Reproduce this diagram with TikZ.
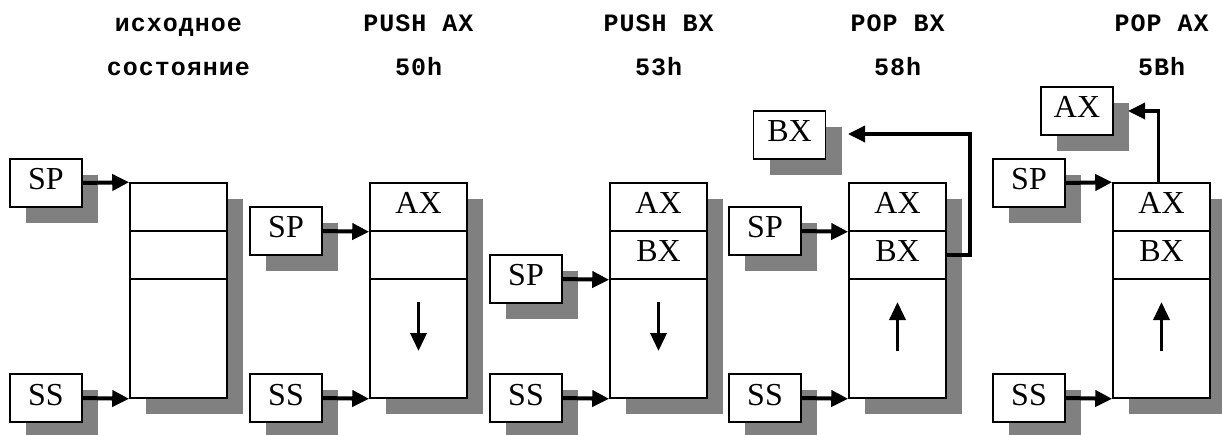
\documentclass[tikz,border=0pt]{standalone}
\usepackage{fontspec}
\setmainfont{Liberation Serif}
\newfontfamily\titlefont[LetterSpace=4]{Liberation Mono}
\usetikzlibrary{arrows.meta,shadows}
\definecolor{shade}{RGB}{128,128,128}
\tikzset{
  shad/.style={drop shadow={shadow xshift=16pt, shadow yshift=-16pt, fill=shade, opacity=1}},
  regbox/.style={draw, line width=1.6pt, fill=white, minimum width=72pt, minimum height=48pt,
    inner sep=0pt, font=\fontsize{32}{32}\selectfont, text height=22pt, text depth=8pt, shad},
  stackbox/.style={draw, line width=1.6pt, fill=white, minimum width=97pt, minimum height=215pt,
    inner sep=0pt, shad},
  cellbox/.style={draw, line width=1.6pt, minimum width=97pt, minimum height=48pt, inner sep=0pt,
    font=\fontsize{32}{32}\selectfont, text height=22pt, text depth=8pt},
  titletext/.style={anchor=base, inner sep=0pt, font=\titlefont\bfseries\fontsize{25}{25}\selectfont},
  ptr/.style={line width=4pt, -{Triangle[length=17pt 0 0,width=16pt 0 0]}},
  popptr/.style={line width=3.5pt, -{Triangle[length=17pt 0 0,width=16pt 0 0]}},
  dirptr/.style={line width=3.5pt, -{Triangle[length=18pt 0 0,width=16pt 0 0]}}
}
\begin{document}
\begin{tikzpicture}[x=1pt,y=-1pt]
\useasboundingbox (0,0) rectangle (1222,435);

% titles
\node[titletext] (t1a) at (178.5,32) {исходное};
\node[titletext] (t1b) at (178.5,76) {состояние};
\node[titletext] (t2a) at (418.5,32) {PUSH AX};
\node[titletext] (t2b) at (418.5,76) {50h};
\node[titletext] (t3a) at (658.5,32) {PUSH BX};
\node[titletext] (t3b) at (658.5,76) {53h};
\node[titletext] (t4a) at (897.5,32) {POP BX};
\node[titletext] (t4b) at (897.5,76) {58h};
\node[titletext] (t5a) at (1161.5,32) {POP AX};
\node[titletext] (t5b) at (1161.5,76) {5Bh};

% panel 1
\node[stackbox] (s1) at (178.5,290.5) {};
\node[cellbox] (a1) at (178.5,207) {};
\node[cellbox] (b1) at (178.5,255) {};
\node[regbox] (sp1) at (46,183) {SP};
\node[regbox] (ss1) at (46,398) {SS};
\draw[ptr] (sp1.east) -- (s1.north west);
\draw[ptr] (ss1.east) -- (s1.south west);

% panel 2
\node[stackbox] (s2) at (418.5,290.5) {};
\node[cellbox] (a2) at (418.5,207) {AX};
\node[cellbox] (b2) at (418.5,255) {};
\node[regbox] (sp2) at (286,231) {SP};
\node[regbox] (ss2) at (286,398) {SS};
\draw[ptr] (sp2.east) -- (a2.south west);
\draw[ptr] (ss2.east) -- (s2.south west);
\draw[dirptr] (418.5,302) -- (418.5,351);

% panel 3
\node[stackbox] (s3) at (658.5,290.5) {};
\node[cellbox] (a3) at (658.5,207) {AX};
\node[cellbox] (b3) at (658.5,255) {BX};
\node[regbox] (sp3) at (526,279) {SP};
\node[regbox] (ss3) at (526,398) {SS};
\draw[ptr] (sp3.east) -- (b3.south west);
\draw[ptr] (ss3.east) -- (s3.south west);
\draw[dirptr] (658.5,302) -- (658.5,351);

% panel 4
\node[stackbox] (s4) at (897.5,290.5) {};
\node[cellbox] (a4) at (897.5,207) {AX};
\node[cellbox] (b4) at (897.5,255) {BX};
\node[regbox] (sp4) at (765,231) {SP};
\node[regbox] (ss4) at (765,398) {SS};
\node[regbox] (bx4) at (789.5,135) {BX};
\coordinate (e4) at (848,134);
\draw[ptr] (sp4.east) -- (a4.south west);
\draw[ptr] (ss4.east) -- (s4.south west);
\draw[dirptr] (897.5,351) -- (897.5,302);
\draw[popptr] (b4.east) -- ++(23,0) |- (e4);

% panel 5
\node[stackbox] (s5) at (1161.5,290.5) {};
\node[cellbox] (a5) at (1161.5,207) {AX};
\node[cellbox] (b5) at (1161.5,255) {BX};
\node[regbox] (sp5) at (1029,183) {SP};
\node[regbox] (ss5) at (1029,398) {SS};
\node[regbox] (ax5) at (1077,111) {AX};
\coordinate (e5) at (1128,111);
\draw[ptr] (sp5.east) -- (s5.north west);
\draw[ptr] (ss5.east) -- (s5.south west);
\draw[dirptr] (1161.5,351) -- (1161.5,302);
\draw[popptr] ([xshift=-3pt]a5.north) |- (e5);
\end{tikzpicture}
\end{document}
